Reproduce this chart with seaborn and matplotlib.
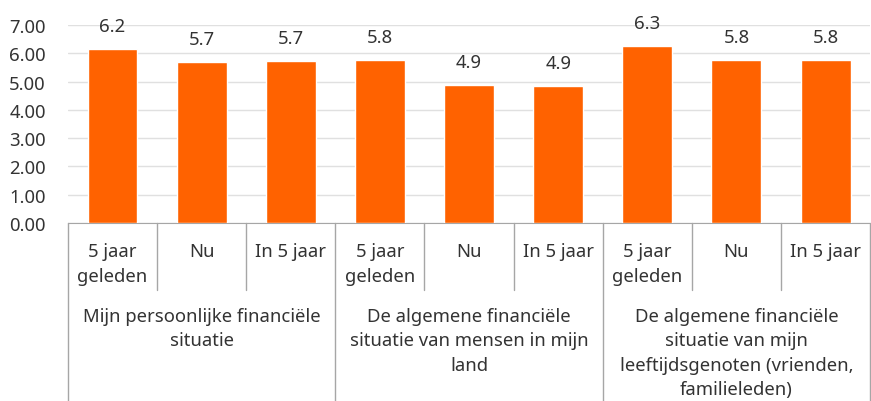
import pandas as pd
import matplotlib.pyplot as plt
import matplotlib.transforms as mtransforms
import seaborn as sns

# Data
groups = [
    "Mijn persoonlijke financiële\nsituatie",
    "De algemene financiële\nsituatie van mensen in mijn\nland",
    "De algemene financiële\nsituatie van mijn\nleeftijdsgenoten (vrienden,\nfamilieleden)",
]
periods = ["5 jaar\ngeleden", "Nu", "In 5 jaar"]
values = [6.16, 5.70, 5.72, 5.76, 4.89, 4.86, 6.26, 5.76, 5.76]
yticks = [0, 1, 2, 3, 4, 5, 6, 7]

rows = []
for gi, g in enumerate(groups):
    for pi, p in enumerate(periods):
        rows.append({"key": f"{gi}-{pi}", "group": g, "period": p,
                     "value": values[gi * len(periods) + pi]})
df = pd.DataFrame(rows)

sns.set_style("white")
plt.rcParams["font.family"] = ["Noto Sans", "DejaVu Sans"]
text_color = "#333333"
line_color = "#a6a6a6"
fs = 13.3

fig = plt.figure(figsize=(8.71, 4.02), dpi=100)
ax = fig.add_axes([0.078, 0.4428, 0.921, 0.4925])

sns.barplot(data=df, x="key", y="value", color="#FF6200", saturation=1,
            width=0.56, ax=ax, zorder=3)

ax.set_xlim(-0.5, len(df) - 0.5)
ax.set_ylim(0, 7)
ax.set_yticks(yticks)
ax.set_yticklabels([f"{v:.2f}" for v in yticks], fontsize=fs, color=text_color)
ax.tick_params(axis="y", length=0, pad=16)
ax.grid(axis="y", color="#e0e0e0", linewidth=1, zorder=0)
ax.set_xlabel("")
ax.set_ylabel("")

for s in ["left", "right", "top"]:
    ax.spines[s].set_visible(False)
ax.spines["bottom"].set_color(line_color)

ax.bar_label(ax.containers[0], labels=[f"{v:.1f}" for v in df["value"]],
             padding=10, fontsize=fs, color=text_color)

# category (period) labels
ax.set_xticks(range(len(df)))
ax.set_xticklabels(df["period"], fontsize=fs, color=text_color,
                   linespacing=1.45, va="top")
ax.tick_params(axis="x", length=0, pad=14)

trans = mtransforms.blended_transform_factory(ax.transData, ax.transAxes)
n = len(periods)
for i in range(len(df) + 1):
    x = i - 0.5
    bottom = -0.9 if i % n == 0 else -0.34
    ax.plot([x, x], [0, bottom], transform=trans, color=line_color,
            linewidth=1, clip_on=False)

# group labels
for gi, g in enumerate(groups):
    cx = gi * n + (n - 1) / 2
    ax.annotate(g, xy=(cx, 0), xycoords=trans, xytext=(0, -84),
                textcoords="offset pixels", ha="center", va="top",
                multialignment="center", fontsize=fs, color=text_color,
                linespacing=1.45, annotation_clip=False)

fig.savefig("out.png", dpi=100)
